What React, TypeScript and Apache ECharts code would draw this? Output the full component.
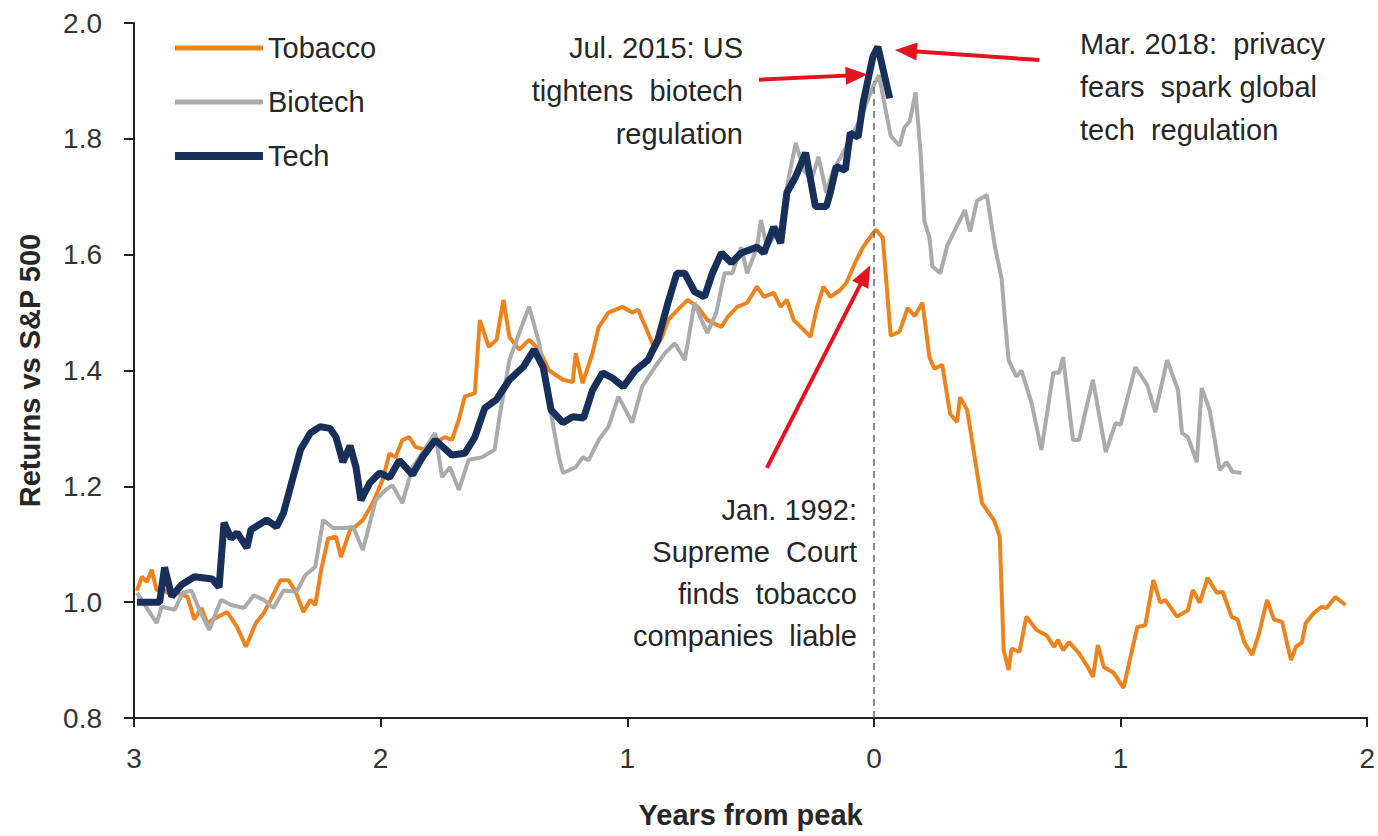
import React, { useEffect, useRef } from "react";
import * as echarts from "echarts";

// Years from peak (negative = before), value = returns vs S&P 500
const TOBACCO: [number, number][] = [
  [-2.988, 1.02], [-2.968, 1.044], [-2.948, 1.035], [-2.928, 1.056], [-2.908, 1.02], [-2.888, 1.025],
  [-2.863, 1.016], [-2.823, 1.016], [-2.783, 1.009], [-2.755, 0.97], [-2.727, 0.99], [-2.703, 0.964],
  [-2.663, 0.974], [-2.622, 0.983], [-2.582, 0.957], [-2.546, 0.923], [-2.506, 0.964], [-2.474, 0.981],
  [-2.446, 1.004], [-2.406, 1.038], [-2.373, 1.038], [-2.345, 1.018], [-2.313, 0.983], [-2.285, 1.004],
  [-2.265, 0.995], [-2.241, 1.056], [-2.213, 1.11], [-2.181, 1.113], [-2.161, 1.078], [-2.124, 1.125],
  [-2.104, 1.13], [-2.072, 1.142], [-2.032, 1.171], [-1.992, 1.211], [-1.964, 1.257], [-1.94, 1.25],
  [-1.912, 1.28], [-1.884, 1.285], [-1.859, 1.268], [-1.819, 1.263], [-1.779, 1.275], [-1.739, 1.285],
  [-1.711, 1.28], [-1.683, 1.315], [-1.659, 1.355], [-1.618, 1.361], [-1.598, 1.487], [-1.562, 1.441],
  [-1.53, 1.453], [-1.502, 1.522], [-1.478, 1.458], [-1.438, 1.436], [-1.398, 1.453], [-1.357, 1.436],
  [-1.317, 1.4], [-1.261, 1.384], [-1.221, 1.38], [-1.209, 1.43], [-1.181, 1.378], [-1.141, 1.43],
  [-1.116, 1.475], [-1.076, 1.5], [-1.02, 1.51], [-0.98, 1.5], [-0.956, 1.505], [-0.916, 1.465],
  [-0.888, 1.436], [-0.859, 1.458], [-0.835, 1.487], [-0.795, 1.505], [-0.755, 1.522], [-0.715, 1.51],
  [-0.675, 1.487], [-0.618, 1.475], [-0.594, 1.492], [-0.554, 1.51], [-0.514, 1.517], [-0.474, 1.545],
  [-0.446, 1.527], [-0.406, 1.534], [-0.378, 1.51], [-0.353, 1.522], [-0.325, 1.487], [-0.285, 1.47],
  [-0.257, 1.458], [-0.233, 1.505], [-0.205, 1.545], [-0.177, 1.527], [-0.137, 1.539], [-0.112, 1.551],
  [-0.072, 1.59], [-0.044, 1.613], [-0.004, 1.637], [0.008, 1.643], [0.036, 1.629], [0.068, 1.46],
  [0.104, 1.467], [0.137, 1.508], [0.165, 1.494], [0.197, 1.517], [0.225, 1.423], [0.245, 1.403],
  [0.277, 1.41], [0.309, 1.325], [0.337, 1.311], [0.349, 1.354], [0.378, 1.332], [0.438, 1.171],
  [0.486, 1.142], [0.51, 1.114], [0.526, 0.917], [0.546, 0.883], [0.558, 0.92], [0.59, 0.914],
  [0.618, 0.975], [0.659, 0.952], [0.699, 0.943], [0.731, 0.923], [0.747, 0.935], [0.767, 0.917],
  [0.791, 0.931], [0.831, 0.912], [0.867, 0.888], [0.888, 0.871], [0.908, 0.926], [0.932, 0.888],
  [0.972, 0.878], [1.012, 0.852], [1.04, 0.905], [1.068, 0.957], [1.1, 0.96], [1.133, 1.038],
  [1.161, 0.999], [1.181, 1.004], [1.229, 0.975], [1.273, 0.986], [1.293, 1.021], [1.321, 0.999],
  [1.353, 1.042], [1.39, 1.016], [1.414, 1.018], [1.45, 0.975], [1.474, 0.97], [1.502, 0.93],
  [1.534, 0.909], [1.562, 0.947], [1.594, 1.004], [1.622, 0.97], [1.655, 0.966], [1.691, 0.9],
  [1.711, 0.923], [1.735, 0.93], [1.751, 0.964], [1.783, 0.981], [1.815, 0.992], [1.835, 0.99],
  [1.871, 1.009], [1.912, 0.995],
];

const BIOTECH: [number, number][] = [
  [-2.988, 1.016], [-2.944, 0.987], [-2.908, 0.964], [-2.888, 0.992], [-2.835, 0.987], [-2.803, 1.016],
  [-2.767, 1.02], [-2.735, 0.987], [-2.695, 0.952], [-2.647, 1.004], [-2.606, 0.995], [-2.554, 0.99],
  [-2.514, 1.012], [-2.474, 1.004], [-2.434, 0.99], [-2.394, 1.02], [-2.341, 1.018], [-2.305, 1.047],
  [-2.265, 1.061], [-2.233, 1.142], [-2.193, 1.128], [-2.145, 1.128], [-2.112, 1.13], [-2.072, 1.09],
  [-2.02, 1.176], [-1.98, 1.194], [-1.952, 1.202], [-1.912, 1.171], [-1.871, 1.233], [-1.843, 1.25],
  [-1.779, 1.292], [-1.751, 1.216], [-1.719, 1.233], [-1.683, 1.194], [-1.643, 1.246], [-1.59, 1.25],
  [-1.538, 1.263], [-1.518, 1.32], [-1.478, 1.418], [-1.438, 1.465], [-1.398, 1.51], [-1.357, 1.447],
  [-1.317, 1.344], [-1.277, 1.25], [-1.261, 1.223], [-1.209, 1.233], [-1.181, 1.25], [-1.157, 1.245],
  [-1.116, 1.28], [-1.076, 1.303], [-1.036, 1.355], [-0.98, 1.31], [-0.94, 1.372], [-0.888, 1.406],
  [-0.847, 1.43], [-0.807, 1.447], [-0.767, 1.418], [-0.727, 1.517], [-0.699, 1.487], [-0.675, 1.465],
  [-0.639, 1.5], [-0.606, 1.568], [-0.574, 1.568], [-0.538, 1.613], [-0.514, 1.568], [-0.474, 1.613],
  [-0.458, 1.66], [-0.434, 1.613], [-0.378, 1.648], [-0.353, 1.717], [-0.317, 1.793], [-0.285, 1.746],
  [-0.253, 1.73], [-0.225, 1.769], [-0.193, 1.707], [-0.165, 1.746], [-0.112, 1.786], [-0.056, 1.833],
  [-0.004, 1.89], [0.02, 1.91], [0.068, 1.805], [0.104, 1.788], [0.124, 1.82], [0.145, 1.83],
  [0.169, 1.88], [0.189, 1.777], [0.205, 1.657], [0.225, 1.63], [0.237, 1.58], [0.269, 1.568],
  [0.297, 1.615], [0.337, 1.65], [0.369, 1.677], [0.39, 1.64], [0.418, 1.693], [0.458, 1.703],
  [0.49, 1.615], [0.518, 1.558], [0.53, 1.494], [0.546, 1.418], [0.578, 1.389], [0.598, 1.4],
  [0.639, 1.344], [0.679, 1.263], [0.727, 1.396], [0.751, 1.396], [0.767, 1.423], [0.807, 1.28],
  [0.831, 1.28], [0.888, 1.384], [0.94, 1.259], [0.98, 1.309], [1.0, 1.306], [1.06, 1.406],
  [1.108, 1.375], [1.141, 1.328], [1.189, 1.418], [1.233, 1.366], [1.249, 1.292], [1.273, 1.285],
  [1.309, 1.242], [1.329, 1.37], [1.361, 1.332], [1.402, 1.228], [1.43, 1.242], [1.454, 1.225],
  [1.49, 1.223],
];

const TECH: [number, number][] = [
  [-2.988, 1.0], [-2.896, 1.0], [-2.876, 1.06], [-2.847, 1.01], [-2.807, 1.03], [-2.755, 1.044],
  [-2.683, 1.04], [-2.655, 1.026], [-2.635, 1.137], [-2.606, 1.11], [-2.582, 1.12], [-2.542, 1.094],
  [-2.526, 1.125], [-2.462, 1.142], [-2.422, 1.13], [-2.394, 1.154], [-2.365, 1.2], [-2.325, 1.263],
  [-2.285, 1.292], [-2.245, 1.303], [-2.205, 1.3], [-2.181, 1.285], [-2.153, 1.242], [-2.124, 1.27],
  [-2.1, 1.233], [-2.08, 1.176], [-2.044, 1.206], [-2.004, 1.223], [-1.964, 1.215], [-1.924, 1.245],
  [-1.871, 1.22], [-1.831, 1.25], [-1.779, 1.28], [-1.711, 1.254], [-1.659, 1.257], [-1.618, 1.285],
  [-1.578, 1.335], [-1.53, 1.35], [-1.478, 1.384], [-1.422, 1.406], [-1.378, 1.436], [-1.341, 1.406],
  [-1.309, 1.332], [-1.261, 1.31], [-1.221, 1.32], [-1.177, 1.318], [-1.141, 1.366], [-1.1, 1.396],
  [-1.06, 1.387], [-1.016, 1.372], [-0.968, 1.4], [-0.916, 1.418], [-0.876, 1.453], [-0.835, 1.517],
  [-0.799, 1.568], [-0.767, 1.568], [-0.727, 1.536], [-0.687, 1.527], [-0.655, 1.568], [-0.618, 1.603],
  [-0.578, 1.586], [-0.538, 1.603], [-0.474, 1.613], [-0.446, 1.603], [-0.406, 1.648], [-0.378, 1.62],
  [-0.353, 1.707], [-0.317, 1.735], [-0.277, 1.776], [-0.257, 1.73], [-0.237, 1.683], [-0.193, 1.683],
  [-0.177, 1.707], [-0.153, 1.752], [-0.116, 1.746], [-0.096, 1.81], [-0.064, 1.803], [-0.044, 1.862],
  [-0.004, 1.942], [0.016, 1.959], [0.064, 1.87],
];

const SERIES_NAMES = ["Tobacco", "Biotech", "Tech"];
const X_TICKS = { min: -3, max: 2, interval: 1 };
const Y_TICKS = { min: 0.8, max: 2.0, interval: 0.2 };

// Annotation arrows: [from, to] in (years, value)
const ARROWS: [[number, number], [number, number]][] = [
  [[-0.466, 1.902], [-0.07, 1.91]],
  [[0.671, 1.936], [0.13, 1.952]],
  [[-0.434, 1.232], [-0.035, 1.565]],
];
const PEAK_LINE: [[number, number], [number, number]] = [[0, 0.8], [0, 1.9]];

const NOTES = [
  { text: "Jul. 2015: US\ntightens  biotech\nregulation", x: 743, y: 26, align: "right", lh: 43 },
  { text: "Mar. 2018:  privacy\nfears  spark global\ntech  regulation", x: 1080, y: 22, align: "left", lh: 43 },
  { text: "Jan. 1992:\nSupreme  Court\nfinds  tobacco\ncompanies  liable", x: 857, y: 489, align: "right", lh: 42 },
];

const FONT = "'Liberation Sans', Arial, Helvetica, sans-serif";
const ORANGE = "#EC831F";
const GREY = "#ABABAB";
const NAVY = "#182F5A";
const RED = "#E3141E";
const INK = "#262626";

const LEGEND_ICONS: Record<string, string> = {
  Tobacco: "path://M0,0 L88,0 L88,5 L0,5 Z",
  Biotech: "path://M0,0 L88,0 L88,5 L0,5 Z",
  Tech: "path://M0,0 L88,0 L88,8 L0,8 Z",
};
const LEGEND_COLORS: Record<string, string> = { Tobacco: ORANGE, Biotech: GREY, Tech: NAVY };

export default function App() {
  const ref = useRef<HTMLDivElement>(null);
  useEffect(() => {
    if (!ref.current) return;
    const chart = echarts.init(ref.current, undefined, { renderer: "svg" });
    chart.setOption({
      animation: false,
      backgroundColor: "#ffffff",
      textStyle: { fontFamily: FONT },
      grid: { left: 134, right: 0, top: 23, bottom: 118 },
      legend: {
        data: SERIES_NAMES.map((n) => ({
          name: n,
          icon: LEGEND_ICONS[n],
          itemStyle: { color: LEGEND_COLORS[n], borderWidth: 0 },
        })),
        orient: "vertical",
        left: 170,
        top: 28,
        itemWidth: 88,
        itemHeight: 14,
        itemGap: 24,
        textStyle: { fontSize: 29, lineHeight: 30, color: INK, fontFamily: FONT },
        selectedMode: false,
      },
      xAxis: {
        type: "value",
        min: X_TICKS.min,
        max: X_TICKS.max,
        interval: X_TICKS.interval,
        name: "Years from peak",
        nameLocation: "middle",
        nameGap: 82,
        nameTextStyle: { fontSize: 29, fontWeight: "bold", color: INK, fontFamily: FONT },
        axisLine: { onZero: false, lineStyle: { color: "#222", width: 2 } },
        axisTick: { show: true, length: 9, lineStyle: { color: "#222", width: 2 } },
        axisLabel: {
          fontSize: 28,
          color: "#333",
          margin: 26,
          formatter: (v: number) => String(Math.abs(v)),
        },
        splitLine: { show: false },
      },
      yAxis: {
        type: "value",
        min: Y_TICKS.min,
        max: Y_TICKS.max,
        interval: Y_TICKS.interval,
        name: "Returns vs S&P 500",
        nameLocation: "middle",
        nameRotate: 90,
        nameGap: 90,
        nameTextStyle: { fontSize: 29, fontWeight: "bold", color: INK, fontFamily: FONT },
        axisLine: { show: true, onZero: false, lineStyle: { color: "#222", width: 2 } },
        axisTick: { show: true, length: 10, lineStyle: { color: "#222", width: 2 } },
        axisLabel: {
          fontSize: 28,
          color: "#333",
          margin: 32,
          formatter: (v: number) => v.toFixed(1),
        },
        splitLine: { show: false },
      },
      series: [
        {
          name: "Tobacco",
          type: "line",
          data: TOBACCO,
          symbol: "none",
          lineStyle: { color: ORANGE, width: 4 },
          itemStyle: { color: ORANGE },
          z: 2,
        },
        {
          name: "Biotech",
          type: "line",
          data: BIOTECH,
          symbol: "none",
          lineStyle: { color: GREY, width: 4 },
          itemStyle: { color: GREY },
          z: 3,
          markLine: {
            silent: true,
            symbol: ["none", "none"],
            label: { show: false },
            lineStyle: { color: "#666", width: 1.5, type: [7, 5] },
            data: [[{ coord: PEAK_LINE[0] }, { coord: PEAK_LINE[1] }]],
          },
        },
        {
          name: "Tech",
          type: "line",
          data: TECH,
          symbol: "none",
          lineStyle: { color: NAVY, width: 7 },
          itemStyle: { color: NAVY },
          z: 4,
          markLine: {
            silent: true,
            symbol: ["none", "triangle"],
            symbolSize: [18, 22],
            label: { show: false },
            lineStyle: { color: RED, width: 4, type: "solid" },
            itemStyle: { color: RED },
            data: ARROWS.map((a) => [{ coord: a[0] }, { coord: a[1] }]),
          },
        },
      ],
      graphic: NOTES.map((n) => ({
        type: "text",
        x: n.x,
        y: n.y,
        silent: true,
        style: {
          text: n.text,
          align: n.align,
          verticalAlign: "top",
          fontSize: 29,
          lineHeight: n.lh,
          fontFamily: FONT,
          fill: INK,
        },
      })),
    });
    return () => chart.dispose();
  }, []);
  return (
    <div
      ref={ref}
      style={{ position: "fixed", left: 0, top: 0, width: 1378, height: 836, background: "#fff" }}
    />
  );
}
